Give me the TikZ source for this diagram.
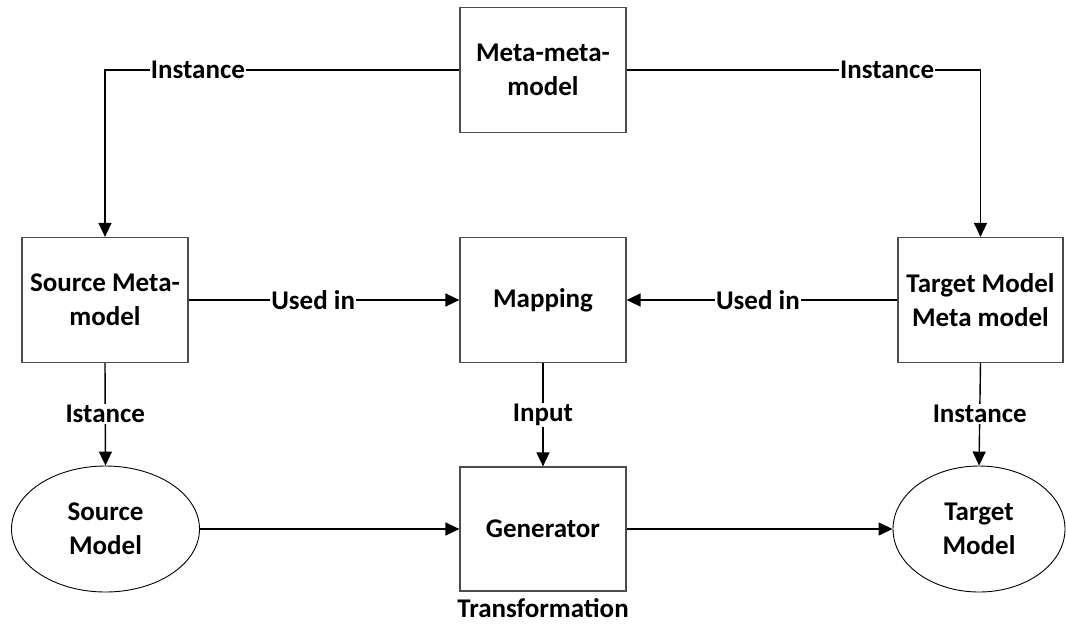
\documentclass[tikz,border=0pt]{standalone}
\usepackage{fontspec}
\setmainfont{Carlito}
\usetikzlibrary{arrows.meta,shapes.geometric}
\begin{document}
\begin{tikzpicture}[x=1pt,y=-1pt,
  box/.style={draw=black!70, line width=1.2pt, minimum width=166pt, minimum height=125pt, align=center, inner sep=0pt},
  oval/.style={draw=black, line width=0.9pt, ellipse, inner sep=0pt, align=center, minimum height=126pt},
  conn/.style={line width=1.4pt, -{Triangle[length=14pt,width=13pt]}},
  lbl/.style={fill=white, inner sep=1pt},
  font=\fontsize{27}{34}\selectfont\bfseries]
\useasboundingbox (0,0) rectangle (1066,625);
\node[box] (mm) at (543,70) {Meta-meta-\\model};
\node[box] (sm) at (105,300) {Source Meta-\\model};
\node[box] (map) at (543,300) {Mapping};
\node[box, minimum width=165pt] (tm) at (980.5,300) {Target Model\\Meta model};
\node[oval, minimum width=188pt] (smod) at (105.5,529) {Source\\Model};
\node[box, minimum height=124pt] (gen) at (543,529) {Generator};
\node[oval, minimum width=172pt] (tmod) at (979,529) {Target\\Model};
\node (tr) at (543,608) {Transformation};
\draw[conn] (mm.west) -| node[lbl, pos=0.369] {Instance} (sm.north);
\draw[conn] (mm.east) -| node[lbl, pos=0.368] {Instance} (tm.north);
\draw[conn] (sm.east) -- node[lbl, pos=0.46] {Used in} (map.west);
\draw[conn] (tm.west) -- node[lbl, pos=0.515] {Used in} (map.east);
\draw[conn] (sm.south) -- node[lbl] {Istance} (smod.north);
\draw[conn] (map.south) -- node[lbl] {Input} (gen.north);
\draw[conn] (tm.south) -- node[lbl] {Instance} (tmod.north);
\draw[conn] (smod.east) -- (gen.west);
\draw[conn] (gen.east) -- (tmod.west);
\end{tikzpicture}
\end{document}
